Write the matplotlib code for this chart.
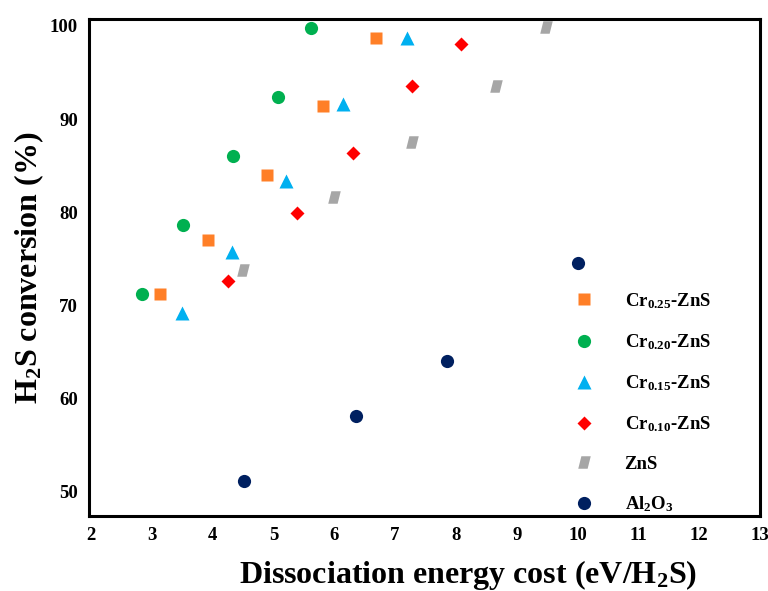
import matplotlib
matplotlib.use("Agg")
import matplotlib.pyplot as plt
from matplotlib.path import Path

plt.rcParams['font.family'] = ['Liberation Serif', 'DejaVu Serif']
plt.rcParams['font.weight'] = 'bold'
plt.rcParams['mathtext.fontset'] = 'custom'
plt.rcParams['mathtext.rm'] = 'Liberation Serif:bold'
plt.rcParams['mathtext.it'] = 'Liberation Serif:bold'
plt.rcParams['mathtext.bf'] = 'Liberation Serif:bold'

# Data
cr25_x = [3.14, 3.93, 4.89, 5.82, 6.68]
cr25_y = [71.2, 77.0, 84.0, 91.4, 98.7]
cr20_x = [2.84, 3.51, 4.34, 5.08, 5.62]
cr20_y = [71.2, 78.6, 86.1, 92.4, 99.8]
cr15_x = [3.49, 4.32, 5.20, 6.14, 7.19]
cr15_y = [69.2, 75.8, 83.4, 91.6, 98.7]
cr10_x = [4.25, 5.38, 6.31, 7.28, 8.09]
cr10_y = [72.6, 79.9, 86.4, 93.6, 98.1]
zns_x = [4.50, 6.00, 7.28, 8.66, 9.48]
zns_y = [73.8, 81.6, 87.6, 93.6, 99.9]
al_x = [4.51, 6.36, 7.86, 10.00]
al_y = [51.2, 58.1, 64.0, 74.6]

x_ticks = list(range(2, 14))
y_ticks = [50, 60, 70, 80, 90, 100]

labels = ['Cr$_{0.25}$-ZnS', 'Cr$_{0.20}$-ZnS', 'Cr$_{0.15}$-ZnS',
          'Cr$_{0.10}$-ZnS', 'ZnS', 'Al$_2$O$_3$']

para = Path([(-0.5, -0.5), (0.25, -0.5), (0.5, 0.5), (-0.25, 0.5), (-0.5, -0.5)],
            [Path.MOVETO, Path.LINETO, Path.LINETO, Path.LINETO, Path.CLOSEPOLY])

fig = plt.figure(figsize=(7.68, 5.91), dpi=100)
ax = fig.add_axes([0.1159, 0.1269, 0.8737, 0.841])

ax.plot(cr25_x, cr25_y, ls='none', marker='s', ms=9, color='#FF7F27', mec='none', label=labels[0])
ax.plot(cr20_x, cr20_y, ls='none', marker='o', ms=9.5, color='#00B050', mec='none', label=labels[1])
ax.plot(cr15_x, cr15_y, ls='none', marker='^', ms=10, color='#00B0F0', mec='none', label=labels[2])
ax.plot(cr10_x, cr10_y, ls='none', marker='D', ms=7, color='#FF0000', mec='none', label=labels[3])
ax.plot(zns_x, zns_y, ls='none', marker=para, ms=9, color='#A6A6A6', mec='none', label=labels[4])
ax.plot(al_x, al_y, ls='none', marker='o', ms=9.5, color='#002060', mec='none', label=labels[5])

ax.set_xlim(1.967, 13.0)
ax.set_ylim(47.42, 100.75)
ax.set_xticks(x_ticks)
ax.set_yticks(y_ticks)
ax.tick_params(length=0, labelsize=13.5, pad=8)
for lab in ax.get_xticklabels() + ax.get_yticklabels():
    lab.set_fontweight('bold')
for s in ax.spines.values():
    s.set_linewidth(2.2)

ax.set_xlabel('Dissociation energy cost (eV/H$_2$S)', fontsize=23, fontweight='bold')
ax.xaxis.set_label_coords(0.565, -0.085)
ax.set_ylabel('H$_2$S conversion (%)', fontsize=23, fontweight='bold', labelpad=3)

ax.legend(loc='upper left', bbox_to_anchor=(0.692, 0.487), frameon=False,
          fontsize=13.5, labelspacing=1.15, handletextpad=1.4, handlelength=1.5,
          markerscale=1.0)

fig.savefig('out.png', dpi=100)
